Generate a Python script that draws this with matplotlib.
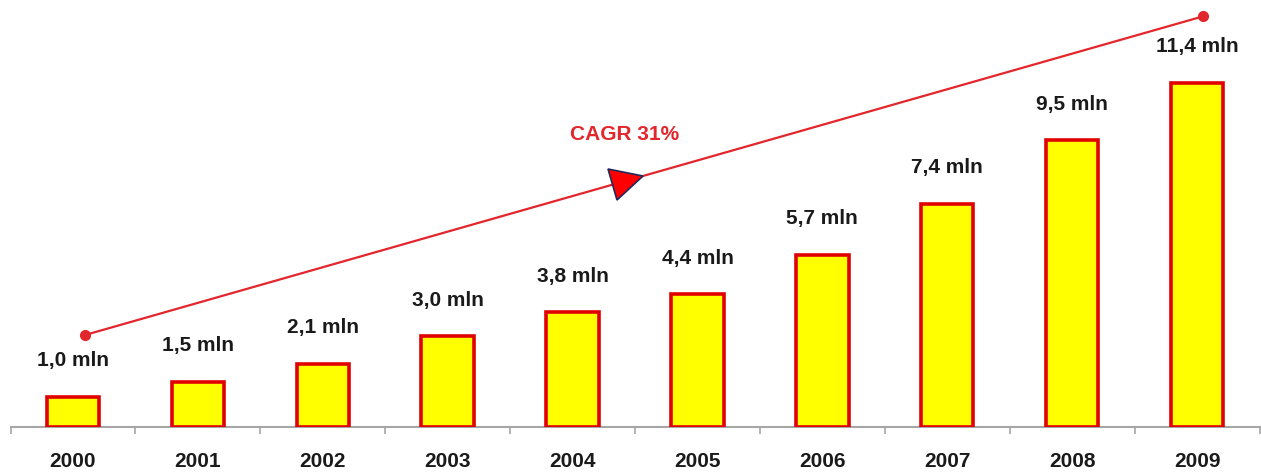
import numpy as np
import matplotlib.pyplot as plt
from matplotlib.markers import MarkerStyle
from matplotlib.transforms import Affine2D

years = ['2000', '2001', '2002', '2003', '2004', '2005', '2006', '2007', '2008', '2009']
values = [1.0, 1.5, 2.1, 3.0, 3.8, 4.4, 5.7, 7.4, 9.5, 11.4]
labels = ['1,0 mln', '1,5 mln', '2,1 mln', '3,0 mln', '3,8 mln',
          '4,4 mln', '5,7 mln', '7,4 mln', '9,5 mln', '11,4 mln']

# CAGR trend line (data units)
cagr_x = [0.1, 9.05]
cagr_y = [3.05, 13.6]
cagr_text = 'CAGR 31%'

plt.rcParams['font.family'] = ['Liberation Sans', 'DejaVu Sans']

px_per_unit = 30.2
fig = plt.figure(figsize=(12.61, 4.73), dpi=100)
ax = fig.add_axes([10.5 / 1261, 46 / 473, 1249 / 1261, 427 / 473])

x = np.arange(len(years))
ax.bar(x, values, width=0.42, color='#FFFF00', edgecolor='#E00000', linewidth=2.6, zorder=3)

for xi, v, lab in zip(x, values, labels):
    ax.annotate(lab, (xi, v), xytext=(0, 22), textcoords='offset points',
                ha='center', va='baseline', fontsize=15, fontweight='bold', color='#1a1a1a')

# trend line with dots and arrow head
ax.plot(cagr_x, cagr_y, color='#E3262B', linewidth=1.6, zorder=4)
ax.plot(cagr_x, cagr_y, 'o', color='#E3262B', markersize=7, zorder=5)
slope = (cagr_y[1] - cagr_y[0]) / (cagr_x[1] - cagr_x[0])
mid = 4.44
ang = np.degrees(np.arctan2(slope * px_per_unit, 124.9))
tri = MarkerStyle('>', transform=Affine2D().rotate_deg(ang))
ax.plot([mid], [cagr_y[0] + slope * (mid - cagr_x[0])], marker=tri, markersize=23,
        color='#FF0000', markeredgecolor='#1F2A5A', markeredgewidth=1.2, zorder=6)
ax.text(mid - 0.02, 9.67, cagr_text, ha='center', va='center', fontsize=15,
        fontweight='bold', color='#E3262B')

ax.set_xlim(-0.5, 9.5)
ax.set_ylim(0, 427 / px_per_unit)
for s in ['top', 'right', 'left']:
    ax.spines[s].set_visible(False)
ax.spines['bottom'].set_color('#A6A6A6')
ax.spines['bottom'].set_linewidth(1.5)
ax.set_yticks([])
ax.set_xticks(x)
ax.set_xticklabels(years, fontsize=15, fontweight='bold', color='#1a1a1a')
ax.tick_params(axis='x', which='major', length=0, pad=18)
ax.set_xticks(np.arange(-0.5, 10, 1), minor=True)
ax.tick_params(axis='x', which='minor', length=5, color='#A6A6A6', width=1.2)

fig.savefig('out.png', dpi=100, facecolor='white')
